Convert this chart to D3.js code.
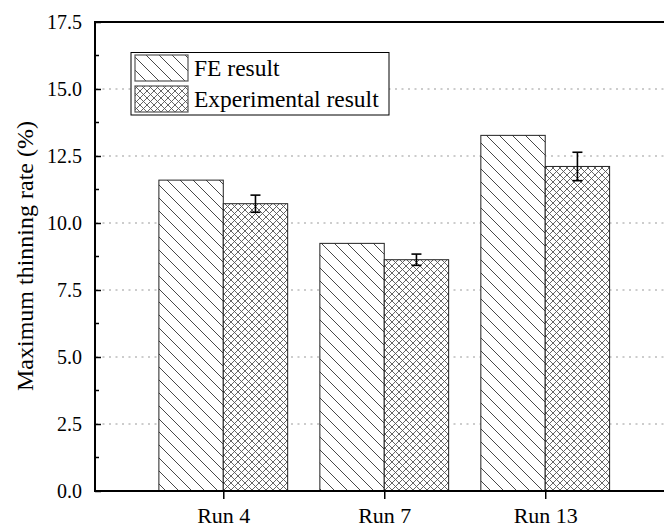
<!DOCTYPE html>
<html><head><meta charset="utf-8">
<script src="https://cdn.jsdelivr.net/npm/d3@7"></script>
<style>body{margin:0;background:#fff}</style>
</head><body>
<svg id="c" width="664" height="528"></svg>
<script>
const categories = ["Run 4", "Run 7", "Run 13"];
const feValues = [11.6, 9.24, 13.27];
const expValues = [10.72, 8.63, 12.11];
const expErrors = [0.32, 0.21, 0.53];
const yTicks = [0, 2.5, 5.0, 7.5, 10.0, 12.5, 15.0, 17.5];
const seriesNames = ["FE result", "Experimental result"];
const FONT = '"Liberation Serif", "Times New Roman", Tinos';

const svg = d3.select("#c").attr("font-family", "Liberation Serif");
const x = d3.scaleLinear().domain([0.2, 3.8]).range([94.5, 674]);
const y = d3.scaleLinear().domain([0, 17.5]).range([491, 22]);
const bw = x(0.4) - x(0);

const defs = svg.append("defs");
const p1 = defs.append("pattern").attr("id","hatch").attr("patternUnits","userSpaceOnUse")
  .attr("width",13).attr("height",13);
p1.append("rect").attr("width",13).attr("height",13).attr("fill","#fff");
p1.append("path").attr("d","M-1,-1 L14,14 M-14,-1 L1,14 M12,-1 L27,14").attr("stroke","#333").attr("stroke-width",0.9);
const p2 = defs.append("pattern").attr("id","cross").attr("patternUnits","userSpaceOnUse")
  .attr("width",7).attr("height",7);
p2.append("rect").attr("width",7).attr("height",7).attr("fill","#fff");
p2.append("path").attr("d","M0,0 L7,7 M7,0 L0,7 M-1,6 L1,8 M6,-1 L8,1 M-1,1 L1,-1 M6,8 L8,6").attr("stroke","#555").attr("stroke-width",0.9);

// grid
svg.append("g").selectAll("line").data(yTicks.filter(t => t > 0 && t < 17.5)).join("line")
  .attr("x1",96).attr("x2",664).attr("y1",d=>y(d)).attr("y2",d=>y(d))
  .attr("stroke","#999").attr("stroke-width",1).attr("stroke-dasharray","2,4.5");

// bars
const g = svg.append("g");
categories.forEach((c,i)=>{
  const xi = i+1;
  g.append("rect").attr("x",x(xi-0.4)).attr("y",y(feValues[i])).attr("width",bw).attr("height",y(0)-y(feValues[i]))
    .attr("fill","url(#hatch)").attr("stroke","#222").attr("stroke-width",1);
  g.append("rect").attr("x",x(xi)).attr("y",y(expValues[i])).attr("width",bw).attr("height",y(0)-y(expValues[i]))
    .attr("fill","url(#cross)").attr("stroke","#222").attr("stroke-width",1);
  const cx = x(xi+0.2);
  const t = y(expValues[i]+expErrors[i]), b = y(expValues[i]-expErrors[i]);
  g.append("line").attr("x1",cx).attr("x2",cx).attr("y1",t).attr("y2",b).attr("stroke","#000").attr("stroke-width",1.6);
  g.append("line").attr("x1",cx-5).attr("x2",cx+5).attr("y1",t).attr("y2",t).attr("stroke","#000").attr("stroke-width",1.6);
  g.append("line").attr("x1",cx-5).attr("x2",cx+5).attr("y1",b).attr("y2",b).attr("stroke","#000").attr("stroke-width",1.6);
});

function serif(sel){ sel.attr("font-family","Liberation Serif").style("font-family", FONT, "important"); return sel; }

// y axis
const yAxis = d3.axisLeft(y).tickValues(yTicks).tickFormat(d3.format(".1f")).tickSize(-6).tickPadding(13);
const ya = svg.append("g").attr("transform","translate(95,0)").call(yAxis).attr("font-family","Liberation Serif");
ya.select(".domain").remove();
ya.selectAll(".tick line").attr("stroke","#000").attr("stroke-width",1.5);
serif(ya.selectAll("text").attr("font-size",20).attr("fill","#000"));
const minor = d3.range(1.25, 17.5, 2.5);
svg.append("g").selectAll("line").data(minor).join("line")
  .attr("x1",95).attr("x2",99).attr("y1",d=>y(d)).attr("y2",d=>y(d)).attr("stroke","#000").attr("stroke-width",1.5);
svg.append("line").attr("x1",95).attr("x2",95).attr("y1",y(17.5)-1).attr("y2",y(0)+1).attr("stroke","#000").attr("stroke-width",2);
svg.append("line").attr("x1",94).attr("x2",664).attr("y1",y(17.5)).attr("y2",y(17.5)).attr("stroke","#000").attr("stroke-width",2);

// x axis
const xAxis = d3.axisBottom(x).tickValues([1,2,3]).tickFormat((d,i)=>categories[i]).tickSize(8).tickPadding(8);
const xa = svg.append("g").attr("transform",`translate(0,${y(0)})`).call(xAxis).attr("font-family","Liberation Serif");
xa.select(".domain").remove();
xa.selectAll(".tick line").attr("stroke","#000").attr("stroke-width",1.5);
serif(xa.selectAll("text").attr("font-size",22).attr("fill","#000"));
svg.append("line").attr("x1",94).attr("x2",664).attr("y1",y(0)).attr("y2",y(0)).attr("stroke","#000").attr("stroke-width",2);

// y title
serif(svg.append("text").attr("transform","translate(33,256) rotate(-90)").attr("text-anchor","middle")
  .attr("font-size",24)).text("Maximum thinning rate (%)");

// legend
const lg = svg.append("g");
lg.append("rect").attr("x",131).attr("y",52.5).attr("width",258).attr("height",62.5).attr("fill","#fff").attr("stroke","#000").attr("stroke-width",1);
const fills = ["url(#hatch)","url(#cross)"];
seriesNames.forEach((n,i)=>{
  const yy = 55 + i*31;
  lg.append("rect").attr("x",135).attr("y",yy).attr("width",53).attr("height",26).attr("fill",fills[i]).attr("stroke","#555").attr("stroke-width",1.2);
  serif(lg.append("text").attr("x",194).attr("y",yy+20.5).attr("font-size",23.5)).text(n);
});
</script>
</body></html>
